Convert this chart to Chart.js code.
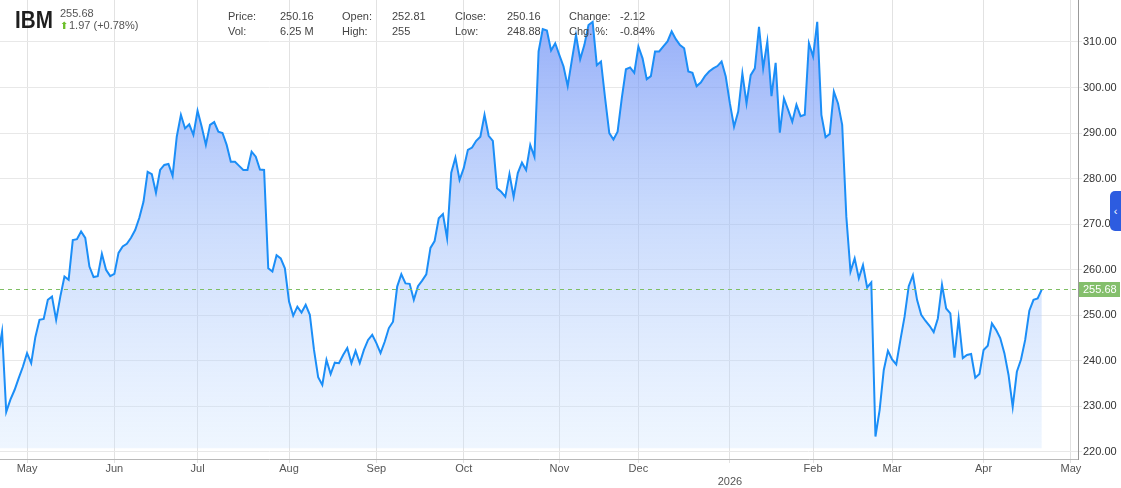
<!DOCTYPE html>
<html>
<head>
<meta charset="utf-8">
<script src="https://cdn.jsdelivr.net/npm/chart.js@4.4.1/dist/chart.umd.min.js"></script>
<style>
  html, body { margin: 0; padding: 0; background: #fff; }
  #wrap { position: relative; width: 1121px; height: 488px; overflow: hidden;
          font-family: 'Liberation Sans', Arial, Helvetica, sans-serif; }
  #wrap canvas { position: absolute; left: 0; top: 0; }
  .t { position: absolute; font-size: 11px; line-height: 13px; color: #444; white-space: nowrap; }
  #sym { position: absolute; left: 15px; top: 8px; font-family: 'Liberation Sans', Arial, sans-serif;
         font-weight: bold; font-size: 24px; line-height: 24px; color: #1e1e1e;
         transform: scaleX(0.86); transform-origin: 0 0; }
  #up { position: absolute; left: 60px; top: 19px; font-family: 'DejaVu Sans', sans-serif;
        font-size: 10px; line-height: 13px; color: #6cbf2a; }
  #tab { position: absolute; left: 1110px; top: 191px; width: 11px; height: 40px; background: #2d5ce0;
         border-radius: 5px 0 0 5px; color: #fff; font-size: 11px; line-height: 40px; text-align: center; }
</style>
</head>
<body>
<div id="wrap">
  <canvas id="chart" width="1121" height="488"></canvas>
  <div id="sym">IBM</div>
  <div class="t" style="left:60px;top:7px;color:#555">255.68</div>
  <div id="up">&#11014;</div>
  <div class="t" style="left:69px;top:19px;color:#555">1.97 (+0.78%)</div>

  <div class="t" style="left:228px;top:10px">Price:</div>
  <div class="t" style="left:280px;top:10px">250.16</div>
  <div class="t" style="left:342px;top:10px">Open:</div>
  <div class="t" style="left:392px;top:10px">252.81</div>
  <div class="t" style="left:455px;top:10px">Close:</div>
  <div class="t" style="left:507px;top:10px">250.16</div>
  <div class="t" style="left:569px;top:10px">Change:</div>
  <div class="t" style="left:620px;top:10px">-2.12</div>

  <div class="t" style="left:228px;top:25px">Vol:</div>
  <div class="t" style="left:280px;top:25px">6.25 M</div>
  <div class="t" style="left:342px;top:25px">High:</div>
  <div class="t" style="left:392px;top:25px">255</div>
  <div class="t" style="left:455px;top:25px">Low:</div>
  <div class="t" style="left:507px;top:25px">248.88</div>
  <div class="t" style="left:569px;top:25px">Chg. %:</div>
  <div class="t" style="left:620px;top:25px">-0.84%</div>

  <div id="tab">&#8249;</div>
</div>

<script>
// first trading day shown and market holidays in the window
const startDate = '2025-04-22';
const holidays = ['2025-05-26', '2025-06-19', '2025-07-04', '2025-09-01', '2025-11-27',
                  '2025-12-25', '2026-01-01', '2026-01-19', '2026-02-16', '2026-04-03'];

// daily closes
const closes = [
  240.9, 246.4, 228.8, 231.5, 233.6, 236.2, 238.7, 241.7, 239.5, 245.2,
  249.0, 249.2, 253.4, 254.1, 249.0, 254.1, 258.5, 257.8, 266.5, 266.7,
  268.4, 267.0, 260.7, 258.4, 258.6, 263.5, 260.0, 258.6, 259.1, 263.7,
  265.1, 265.7, 267.0, 268.7, 271.4, 274.9, 281.5, 281.0, 276.9, 281.9,
  283.0, 283.2, 280.6, 289.2, 294.0, 291.0, 291.9, 289.6, 294.9, 291.4,
  287.4, 291.8, 292.4, 290.3, 290.0, 287.4, 283.7, 283.7, 282.8, 281.9,
  281.9, 285.9, 284.8, 282.0, 281.9, 260.3, 259.6, 263.2, 262.5, 260.3,
  253.0, 249.9, 251.9, 250.6, 252.3, 250.1, 242.4, 236.4, 234.7, 240.2,
  237.1, 239.6, 239.5, 241.3, 242.8, 239.5, 242.2, 239.5, 242.4, 244.6,
  245.7, 243.9, 241.7, 244.2, 247.2, 248.6, 256.3, 259.0, 257.0, 256.9,
  253.4, 256.4, 257.6, 259.0, 264.8, 266.3, 271.3, 272.2, 266.9, 281.3,
  284.6, 279.7, 282.3, 286.3, 286.8, 288.3, 289.2, 294.0, 289.4, 288.3,
  277.9, 277.1, 276.0, 281.0, 276.0, 281.2, 283.5, 281.9, 287.4, 284.8,
  307.9, 312.8, 312.5, 308.1, 309.7, 307.1, 304.6, 300.3, 306.0, 311.5,
  306.2, 309.3, 313.7, 314.4, 304.9, 305.7, 297.6, 290.0, 288.6, 290.3,
  297.6, 304.0, 304.4, 303.2, 309.0, 306.4, 301.8, 302.5, 307.9, 307.9,
  309.0, 310.1, 312.3, 310.6, 309.3, 308.6, 303.5, 303.2, 300.3, 301.1,
  302.5, 303.5, 304.2, 304.7, 305.7, 302.4, 296.5, 291.4, 294.7, 303.1,
  296.5, 302.7, 304.2, 313.3, 304.2, 310.1, 298.1, 305.4, 290.1, 297.6,
  295.1, 292.5, 296.2, 293.7, 294.0, 309.7, 306.8, 314.4, 294.0, 289.1,
  289.8, 299.1, 296.5, 291.8, 271.6, 259.6, 262.5, 258.1, 261.0, 256.1,
  257.2, 223.4, 229.2, 238.0, 242.2, 240.3, 239.2, 244.6, 249.7, 256.4,
  258.8, 253.4, 250.1, 248.8, 247.7, 246.3, 249.3, 256.7, 251.5, 250.4,
  240.7, 249.3, 240.6, 241.3, 241.5, 236.3, 237.1, 242.4, 243.3, 248.2,
  246.8, 245.0, 241.7, 236.9, 229.9, 237.6, 240.3, 244.6, 251.0, 253.4,
  253.7, 255.68
];

const lastPrice = 255.68;
const monthNames = ['Jan', 'Feb', 'Mar', 'Apr', 'May', 'Jun', 'Jul', 'Aug', 'Sep', 'Oct', 'Nov', 'Dec'];
const yTicks = [220, 230, 240, 250, 260, 270, 280, 290, 300, 310];

// trading calendar (weekdays minus holidays), a bit past the data so May 2026 gets a tick
function tradingDays(start, count) {
  const out = [];
  const d = new Date(start + 'T12:00:00Z');
  while (out.length < count) {
    const iso = d.toISOString().slice(0, 10);
    const wd = d.getUTCDay();
    if (wd !== 0 && wd !== 6 && !holidays.includes(iso)) out.push(iso);
    d.setUTCDate(d.getUTCDate() + 1);
  }
  return out;
}
const days = tradingDays(startDate, 262);

// first trading day of each month -> tick
const monthTicks = [];
for (let i = 1; i < days.length; i++) {
  if (days[i].slice(0, 7) !== days[i - 1].slice(0, 7)) {
    const m = +days[i].slice(5, 7);
    const label = m === 1 ? ['', days[i].slice(0, 4)] : monthNames[m - 1];
    monthTicks.push({ value: i, label: label });
  }
}

const points = closes.map((v, i) => ({ x: i, y: v }));

const lastPricePlugin = {
  id: 'lastPrice',
  afterDatasetsDraw(chart) {
    const { ctx, chartArea, scales } = chart;
    const y = Math.round(scales.y.getPixelForValue(lastPrice)) + 0.5;
    ctx.save();
    ctx.strokeStyle = '#7fbf64';
    ctx.lineWidth = 1;
    ctx.setLineDash([4, 4]);
    ctx.beginPath();
    ctx.moveTo(chartArea.left, y);
    ctx.lineTo(chartArea.right, y);
    ctx.stroke();
    ctx.restore();
  },
  afterDraw(chart) {
    const { ctx, chartArea, scales } = chart;
    const y = Math.round(scales.y.getPixelForValue(lastPrice));
    ctx.save();
    ctx.fillStyle = '#84bf6c';
    ctx.fillRect(chartArea.right + 1, y - 7, 41, 15);
    ctx.fillStyle = '#fff';
    ctx.font = "11px 'Liberation Sans', Arial, sans-serif";
    ctx.textBaseline = 'middle';
    ctx.fillText(lastPrice.toFixed(2), chartArea.right + 5, y + 1);
    ctx.restore();
  }
};

new Chart(document.getElementById('chart'), {
  type: 'line',
  data: {
    datasets: [{
      data: points,
      borderColor: '#1b8ef7',
      borderWidth: 2,
      pointRadius: 0,
      tension: 0,
      fill: { value: 220.8 },
      backgroundColor: (context) => {
        const { ctx, chartArea } = context.chart;
        if (!chartArea) return 'rgba(120,150,245,0.5)';
        const g = ctx.createLinearGradient(0, chartArea.top, 0, chartArea.bottom);
        g.addColorStop(0, 'rgba(100,135,245,0.72)');
        g.addColorStop(0.45, 'rgba(145,180,250,0.5)');
        g.addColorStop(1, 'rgba(205,228,255,0.3)');
        return g;
      }
    }]
  },
  options: {
    responsive: false,
    animation: false,
    layout: { padding: 0 },
    plugins: { legend: { display: false }, tooltip: { enabled: false } },
    scales: {
      x: {
        type: 'linear',
        min: 0.5,
        max: 259.7,
        afterBuildTicks: (scale) => { scale.ticks = monthTicks.map(t => ({ value: t.value })); },
        afterFit: (scale) => {
          scale.height = 29;
          scale.paddingLeft = 0;
          scale.paddingRight = 0;
        },
        ticks: {
          autoSkip: false,
          maxRotation: 0,
          padding: -1,
          color: '#555',
          font: { family: "'Liberation Sans', Arial, sans-serif", size: 11 },
          callback: (v) => {
            const t = monthTicks.find(m => m.value === v);
            return t ? t.label : '';
          }
        },
        grid: { color: '#e2e2e2', tickLength: 4 },
        border: { color: '#b8b8b8' }
      },
      y: {
        position: 'right',
        min: 218.46,
        max: 319.2,
        afterBuildTicks: (scale) => { scale.ticks = yTicks.map(v => ({ value: v })); },
        afterFit: (scale) => {
          scale.width = 43;
          scale.paddingTop = 0;
          scale.paddingBottom = 0;
        },
        ticks: {
          padding: 1,
          color: '#333',
          font: { family: "'Liberation Sans', Arial, sans-serif", size: 11 },
          callback: (v) => v.toFixed(2)
        },
        grid: { color: '#e8e8e8', tickLength: 4 },
        border: { color: '#999' }
      }
    }
  },
  plugins: [lastPricePlugin]
});
</script>
</body>
</html>
